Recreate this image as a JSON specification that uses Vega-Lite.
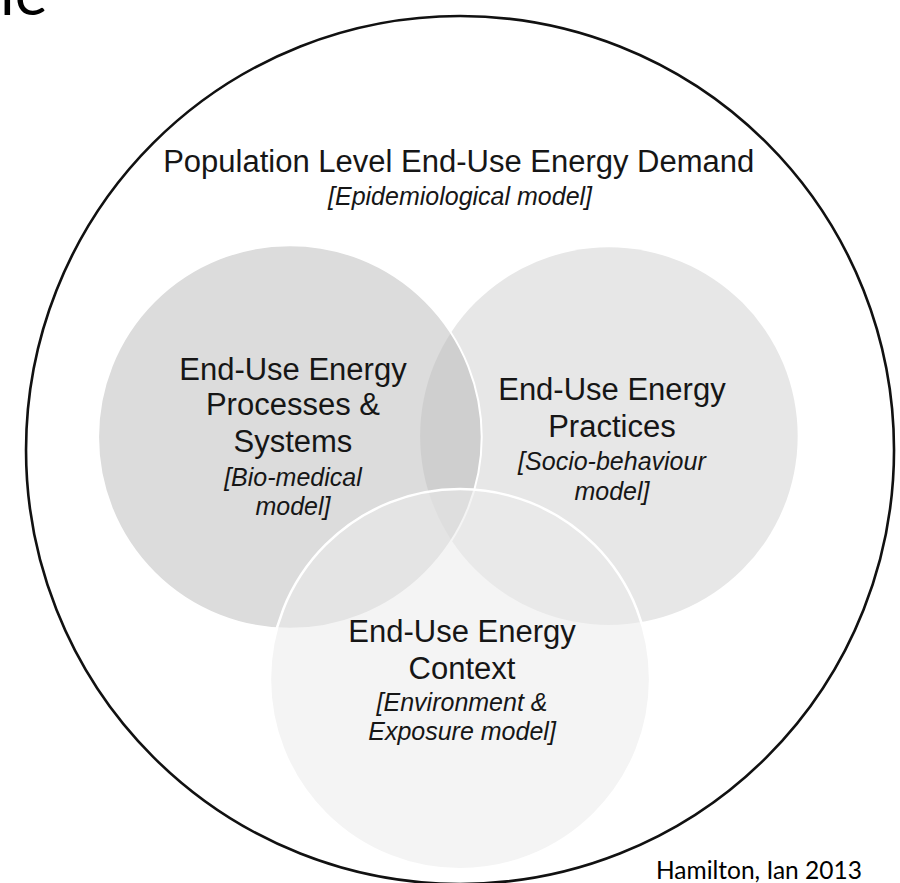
{
  "$schema": "https://vega.github.io/schema/vega-lite/v6.json",
  "width": 900,
  "height": 883,
  "padding": 0,
  "autosize": {"type": "none"},
  "background": "white",
  "config": {"view": {"stroke": null}},
  "datasets": {
    "circles": [
      {"name": "Population Level End-Use Energy Demand", "u": 0, "v": 0, "r": 100},
      {"name": "End-Use Energy Practices", "u": 34.3, "v": 3.2, "r": 43.5},
      {"name": "End-Use Energy Processes & Systems", "u": -39.2, "v": 3.0, "r": 44.2},
      {"name": "End-Use Energy Context", "u": 0, "v": -52.8, "r": 43.8}
    ],
    "labels": [
      {"text": "Population Level End-Use Energy Demand", "u": -0.3, "v": 64.0, "kind": "heading"},
      {"text": "[Epidemiological model]", "u": 0, "v": 56.4, "kind": "model"},
      {"text": "End-Use Energy", "u": -38.5, "v": 16.13, "kind": "heading"},
      {"text": "Processes &", "u": -38.5, "v": 8.06, "kind": "heading"},
      {"text": "Systems", "u": -38.5, "v": -0.46, "kind": "heading"},
      {"text": "[Bio-medical", "u": -38.5, "v": -8.29, "kind": "model"},
      {"text": "model]", "u": -38.5, "v": -14.98, "kind": "model"},
      {"text": "End-Use Energy", "u": 35.0, "v": 11.52, "kind": "heading"},
      {"text": "Practices", "u": 35.0, "v": 3.0, "kind": "heading"},
      {"text": "[Socio-behaviour", "u": 35.0, "v": -4.61, "kind": "model"},
      {"text": "model]", "u": 35.0, "v": -11.52, "kind": "model"},
      {"text": "End-Use Energy", "u": 0.46, "v": -44.24, "kind": "heading"},
      {"text": "Context", "u": 0.46, "v": -52.76, "kind": "heading"},
      {"text": "[Environment &", "u": 0.46, "v": -60.14, "kind": "model"},
      {"text": "Exposure model]", "u": 0.46, "v": -66.82, "kind": "model"},
      {"text": "Hamilton, Ian 2013", "u": 92.6, "v": -98.85, "kind": "credit"},
      {"text": "le", "u": -106, "v": 100.2, "kind": "slide"}
    ]
  },
  "encoding": {
    "x": {"field": "u", "type": "quantitative", "scale": {"domain": [-106, 101.38], "nice": false, "zero": false}, "axis": null},
    "y": {"field": "v", "type": "quantitative", "scale": {"domain": [-99.77, 103.69], "nice": false, "zero": false}, "axis": null}
  },
  "layer": [
    {
      "data": {"name": "circles"},
      "transform": [{"filter": "datum.r == 100"}],
      "mark": {"type": "point", "shape": "circle", "filled": false, "stroke": "#111111", "strokeWidth": 2.6, "opacity": 1},
      "encoding": {
        "size": {"field": "r", "type": "quantitative", "scale": {"type": "pow", "exponent": 2, "domain": [0, 100], "range": [0, 753424]}, "legend": null}
      }
    },
    {
      "data": {"name": "circles"},
      "transform": [{"filter": "datum.name == 'End-Use Energy Practices'"}],
      "mark": {"type": "point", "shape": "circle", "filled": true, "fill": "#e7e7e7", "fillOpacity": 1, "opacity": 1, "strokeWidth": 0},
      "encoding": {
        "size": {"field": "r", "type": "quantitative", "scale": {"type": "pow", "exponent": 2, "domain": [0, 100], "range": [0, 753424]}, "legend": null}
      }
    },
    {
      "data": {"name": "circles"},
      "transform": [{"filter": "datum.name == 'End-Use Energy Processes & Systems'"}],
      "mark": {"type": "point", "shape": "circle", "filled": true, "fill": "#b6b6b6", "fillOpacity": 0.48, "opacity": 1, "stroke": "white", "strokeWidth": 2, "strokeOpacity": 1},
      "encoding": {
        "size": {"field": "r", "type": "quantitative", "scale": {"type": "pow", "exponent": 2, "domain": [0, 100], "range": [0, 753424]}, "legend": null}
      }
    },
    {
      "data": {"name": "circles"},
      "transform": [{"filter": "datum.name == 'End-Use Energy Context'"}],
      "mark": {"type": "point", "shape": "circle", "filled": true, "fill": "#ebebeb", "fillOpacity": 0.55, "opacity": 1, "stroke": "white", "strokeWidth": 2.5, "strokeOpacity": 1},
      "encoding": {
        "size": {"field": "r", "type": "quantitative", "scale": {"type": "pow", "exponent": 2, "domain": [0, 100], "range": [0, 753424]}, "legend": null}
      }
    },
    {
      "data": {"name": "labels"},
      "transform": [{"filter": "datum.kind == 'heading'"}],
      "mark": {"type": "text", "font": "Liberation Sans", "fontSize": 31, "align": "center", "baseline": "alphabetic", "color": "#161616"},
      "encoding": {"text": {"field": "text"}}
    },
    {
      "data": {"name": "labels"},
      "transform": [{"filter": "datum.kind == 'model'"}],
      "mark": {"type": "text", "font": "Liberation Sans", "fontSize": 25, "fontStyle": "italic", "align": "center", "baseline": "alphabetic", "color": "#161616"},
      "encoding": {"text": {"field": "text"}}
    },
    {
      "data": {"name": "labels"},
      "transform": [{"filter": "datum.kind == 'credit'"}],
      "mark": {"type": "text", "font": "Lato", "fontSize": 24.5, "align": "right", "baseline": "alphabetic", "color": "#000000"},
      "encoding": {"text": {"field": "text"}}
    },
    {
      "data": {"name": "labels"},
      "transform": [{"filter": "datum.kind == 'slide'"}],
      "mark": {"type": "text", "font": "Lato", "fontSize": 62, "align": "left", "baseline": "alphabetic", "color": "#000000"},
      "encoding": {"text": {"field": "text"}}
    }
  ]
}
